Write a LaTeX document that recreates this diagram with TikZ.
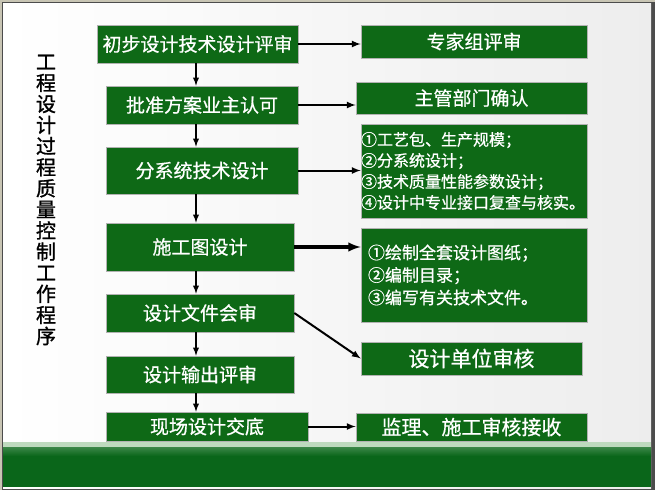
\documentclass[tikz,border=0pt]{standalone}
\usepackage{fontspec}
\setmainfont{Noto Sans CJK SC}
\newfontfamily\boxfont[FakeBold=0.7]{Noto Sans CJK SC}
\newfontfamily\titlefont[FakeBold=1.2]{Noto Sans CJK SC}
\definecolor{boxgreen}{RGB}{14,105,22}
\definecolor{bandgreen}{RGB}{10,102,26}
\definecolor{bandmid}{RGB}{60,135,72}
\definecolor{bandlight}{RGB}{190,218,190}
\definecolor{framegray}{RGB}{200,197,180}
\begin{document}
\begin{tikzpicture}
    [
    x=1pt,y=-1pt,
    stage/.style={draw=gray!60,line width=0.6pt,fill=boxgreen,text=white,inner sep=0pt,font=\boxfont\fontsize{19}{22}\selectfont},
    outcome/.style={stage},
    itemlist/.style={stage,align=left,font=\boxfont\fontsize{16}{21}\selectfont},
    flow/.style={-latex,line width=1.8pt}
    ]
    % frame and background
    \useasboundingbox (0,0) rectangle (655,490);
    \fill[framegray] (0,0) rectangle (655,490);
    \fill[gray!60!black] (2,2) rectangle (655,490);
    \shade[left color=white,right color=gray!14] (3,3) rectangle (651,488);
    \fill[bandlight] (3,442) rectangle (651,447);
    \shade[top color=bandmid,bottom color=bandgreen] (3,447) rectangle (651,456);
    \fill[bandgreen] (3,456) rectangle (651,487);
    % title
    \node (title) at (46,200) [align=center,font=\titlefont\fontsize{20}{21.1}\selectfont]
      {工\\程\\设\\计\\过\\程\\质\\量\\控\\制\\工\\作\\程\\序};
    % main flow
    \node (b1) at (197.5,44) [stage,minimum width=201,minimum height=38] {初步设计技术设计评审};
    \node (b2) at (202,105) [stage,minimum width=192,minimum height=38] {批准方案业主认可};
    \node (b3) at (202,170.5) [stage,minimum width=192,minimum height=47] {分系统技术设计};
    \node (b4) at (200,247) [stage,minimum width=188,minimum height=48] {施工图设计};
    \node (b5) at (200,313) [stage,minimum width=188,minimum height=38] {设计文件会审};
    \node (b6) at (200,374.5) [stage,minimum width=188,minimum height=37] {设计输出评审};
    \node (b7) at (207,426.5) [stage,minimum width=202,minimum height=29] {现场设计交底};
    % right column
    \node (r1) at (474,41.5) [outcome,minimum width=226,minimum height=33] {专家组评审};
    \node (r2) at (471.5,98) [outcome,minimum width=231,minimum height=32] {主管部门确认};
    \node (r3) at (474,171) [itemlist,text width=226,minimum height=94]
      {①工艺包、生产规模；\\②分系统设计；\\③技术质量性能参数设计；\\④设计中专业接口复查与核实。};
    \node (r4) at (474,275) [itemlist,text width=212,inner xsep=7,minimum height=94,font=\boxfont\fontsize{17}{22.5}\selectfont]
      {①绘制全套设计图纸；\\②编制目录；\\③编写有关技术文件。};
    \node (r5) at (471.5,358.5) [outcome,minimum width=221,minimum height=33,font=\boxfont\fontsize{21}{24}\selectfont] {设计单位审核};
    \node (r6) at (471.5,427) [outcome,minimum width=231,minimum height=28,font=\boxfont\fontsize{20}{23}\selectfont] {监理、施工审核接收};
    \coordinate (axis) at (196,0);
    \draw [flow] (b1.south -| axis) to (b2.north -| axis);
    \draw [flow] (b2.south -| axis) to (b3.north -| axis);
    \draw [flow] (b3.south -| axis) to (b4.north -| axis);
    \draw [flow] (b4.south -| axis) to (b5.north -| axis);
    \draw [flow] (b5.south -| axis) to (b6.north -| axis);
    \draw [flow] (b6.south -| axis) to (b7.north -| axis);
    \draw [flow,line width=2pt] (b1.east) to (r1.west |- b1.east);
    \draw [flow,line width=2pt] (b2.east) to (r2.west |- b2.east);
    \draw [flow,line width=2pt] (b3.east) to (r3.west |- b3.east);
    \draw [flow,line width=3.2pt] (b4.east) to (r4.west |- b4.east);
    \draw [flow,line width=2pt] (b5.east) to (r5.west);
    \draw [flow,line width=2pt] (b7.east) to (r6.west |- b7.east);
  \end{tikzpicture}
\end{document}
